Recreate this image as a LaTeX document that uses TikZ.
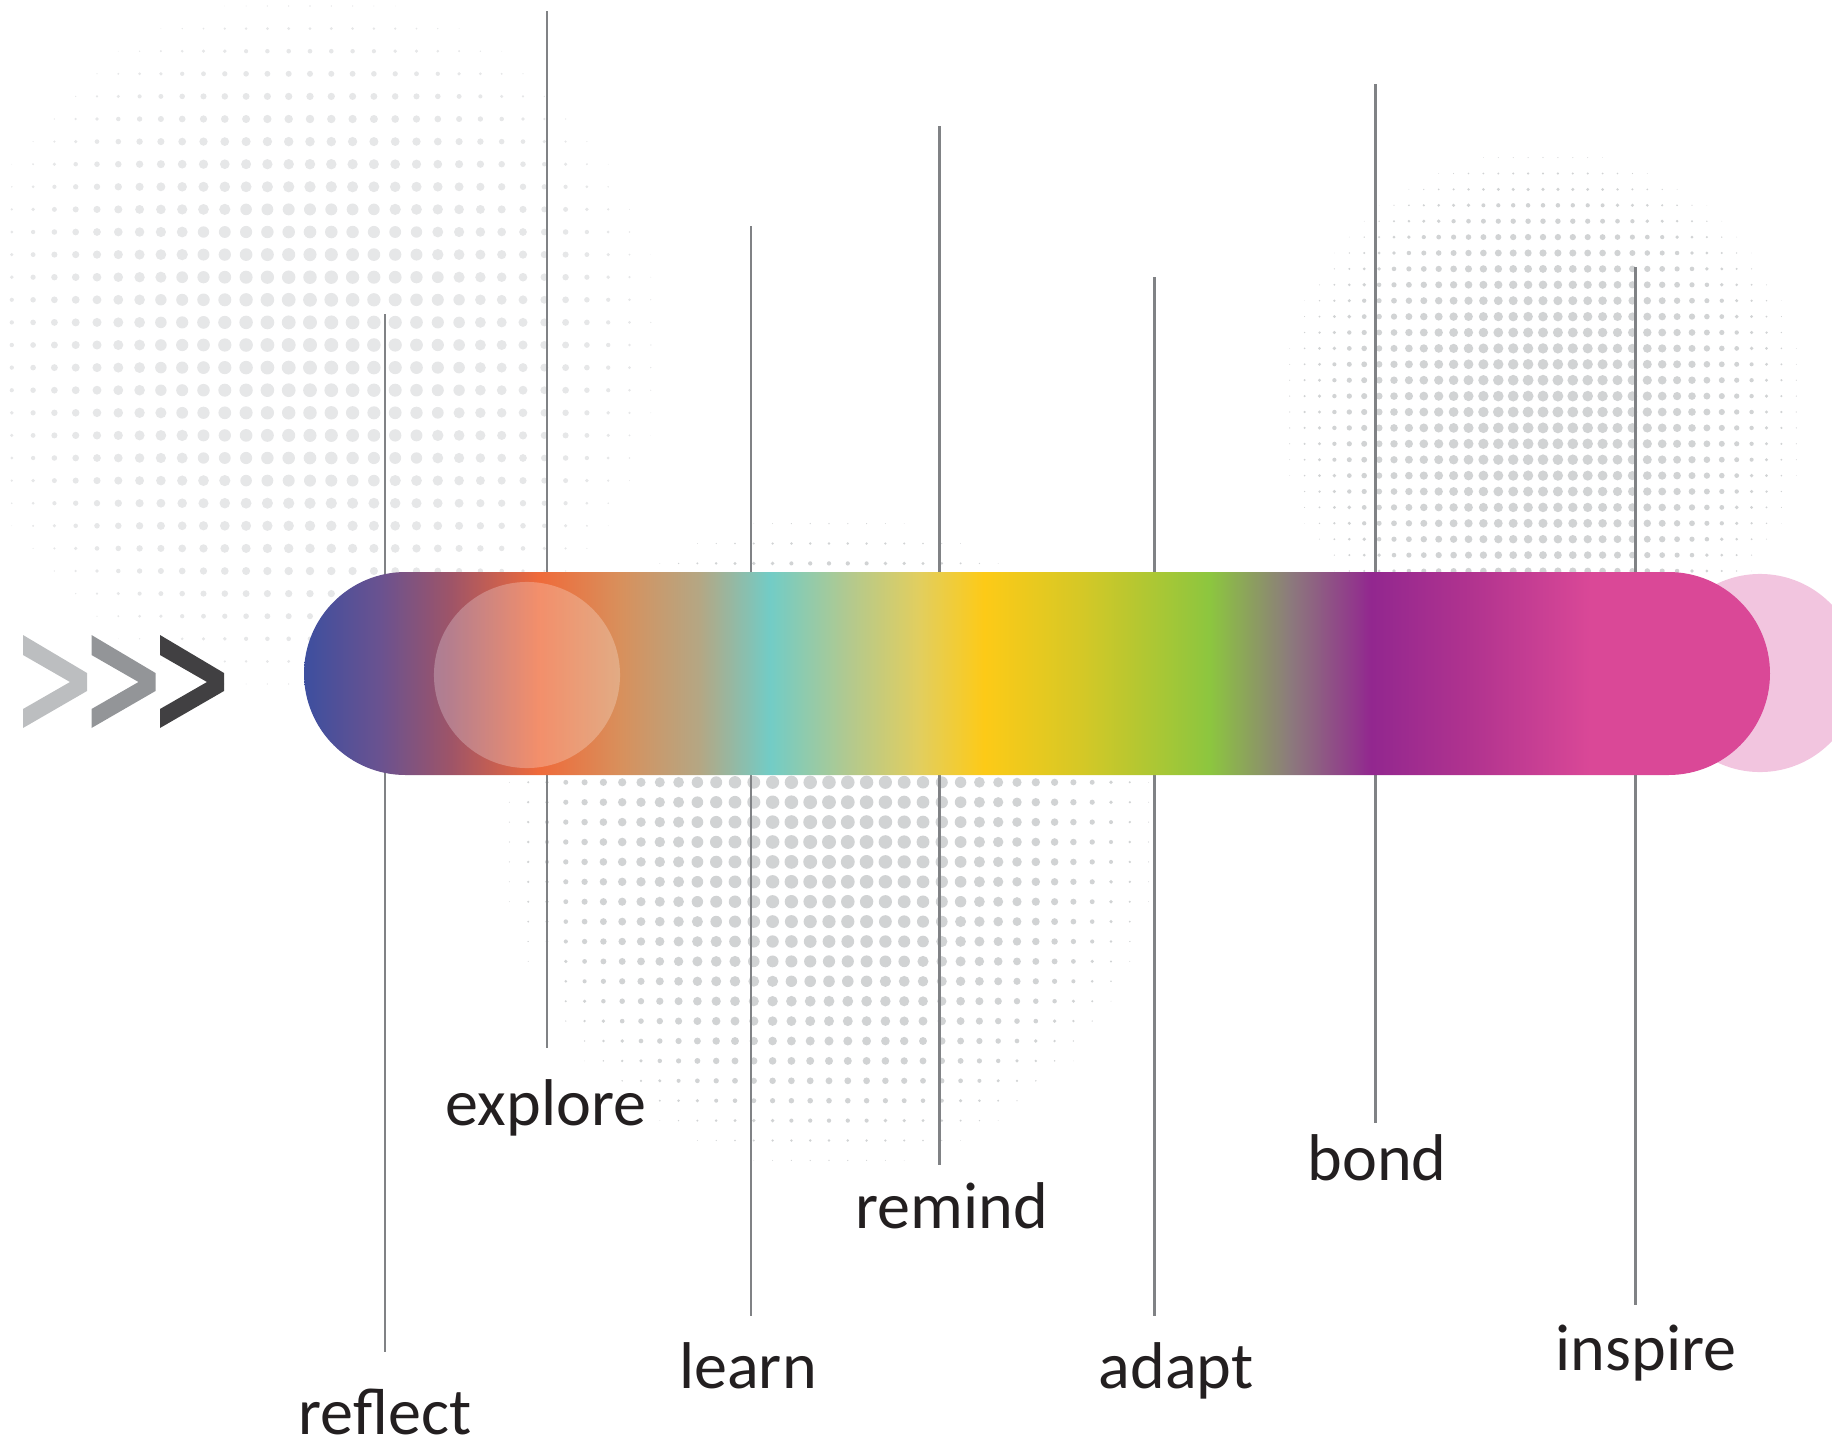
\documentclass[tikz,border=0pt]{standalone}
\usepackage{fontspec}
\setmainfont{Carlito}
\usetikzlibrary{positioning,calc}

\definecolor{stemgray}{HTML}{808285}
\definecolor{inkblack}{HTML}{231F20}
\definecolor{dotlight}{HTML}{E6E7E8}
\definecolor{dotmid}{HTML}{D1D3D4}
\definecolor{pinkcap}{HTML}{F2C5DF}
\definecolor{chevlight}{HTML}{BCBEC0}
\definecolor{chevmid}{HTML}{939598}
\definecolor{chevdark}{HTML}{414042}

\definecolor{rbblue}{HTML}{3D4F9F}
\definecolor{rbviolet}{HTML}{6A5290}
\definecolor{rbmauve}{HTML}{9E5468}
\definecolor{rbred}{HTML}{EF6A3A}
\definecolor{rbtan}{HTML}{D8905C}
\definecolor{rbsand}{HTML}{B4A784}
\definecolor{rbteal}{HTML}{72CCC6}
\definecolor{rbsage}{HTML}{B3C98E}
\definecolor{rbstraw}{HTML}{E2CE5E}
\definecolor{rbyellow}{HTML}{FDCA17}
\definecolor{rblime}{HTML}{D5C826}
\definecolor{rbgreen}{HTML}{8CC63F}
\definecolor{rbdusk}{HTML}{8C7B7C}
\definecolor{rbpurple}{HTML}{92278F}
\definecolor{rbplum}{HTML}{B1338F}
\definecolor{rbpink}{HTML}{DA4897}

\pgfdeclarehorizontalshading{rainbow}{100bp}{%
  color(0bp)=(rbblue); color(25bp)=(rbblue);
  color(27.6bp)=(rbviolet); color(30bp)=(rbmauve);
  color(33bp)=(rbred); color(35.8bp)=(rbtan);
  color(38.5bp)=(rbsand); color(40.9bp)=(rbteal);
  color(43.6bp)=(rbsage); color(46bp)=(rbstraw);
  color(48.2bp)=(rbyellow); color(51.5bp)=(rblime);
  color(55.9bp)=(rbgreen); color(58.6bp)=(rbdusk);
  color(61.4bp)=(rbpurple); color(64.8bp)=(rbplum);
  color(68.9bp)=(rbpink); color(75bp)=(rbpink);
  color(100bp)=(rbpink)}

% halftone: centre x, centre y, reach, biggest radius, step x, step y, colour
\newcommand{\dotfield}[7]{%
  \pgfmathtruncatemacro{\dotni}{#3/#5}%
  \pgfmathtruncatemacro{\dotnj}{#3/#6}%
  \foreach \i in {-\dotni,...,\dotni}{%
    \foreach \j in {-\dotnj,...,\dotnj}{%
      \pgfmathsetmacro{\dotf}{1-(\i*#5/#3)^2-(\j*#6/#3)^2}%
      \ifdim\dotf pt>0.04pt
        \pgfmathsetmacro{\dotr}{#4*\dotf*0.28453}%
        \fill[#7] ({#1+\i*#5},{#2+\j*#6}) circle[radius=\dotr pt];
      \fi
    }}}

\begin{document}
\begin{tikzpicture}[x=0.01cm, y=-0.01cm,
    stem/.style={stemgray, line width=0.85pt},
    word/.style={inkblack, anchor=base, inner sep=0pt,
      font=\fontsize{18.8pt}{20pt}\selectfont}]

    \useasboundingbox (0,0) rectangle (1832,1454);
    \clip (0,0) rectangle (1832,1454);

    \dotfield{310}{345}{360}{7}{21.3}{22.6}{dotlight}
    \dotfield{829}{842}{335}{7}{18.8}{19.9}{dotmid}
    \dotfield{1543}{412}{270}{5.5}{14.9}{15.9}{dotmid}

    \coordinate (t1) at (385,314);
    \coordinate (b1) at ($(t1)+(0,1038)$);
    \coordinate (t2) at (547,11);
    \coordinate (b2) at ($(t2)+(0,1037)$);
    \coordinate (t3) at (751,226);
    \coordinate (b3) at ($(t3)+(0,1090)$);
    \coordinate (t4) at (939,126);
    \coordinate (b4) at ($(t4)+(0,1039)$);
    \coordinate (t5) at (1154,277);
    \coordinate (b5) at ($(t5)+(0,1039)$);
    \coordinate (t6) at (1375,84);
    \coordinate (b6) at ($(t6)+(0,1039)$);
    \coordinate (t7) at (1635,267);
    \coordinate (b7) at ($(t7)+(0,1038)$);

    \foreach \k in {1,...,7}
      \draw[stem] (t\k) -- (b\k);

    \fill[pinkcap] (1760,673) circle[radius=0.99cm];
    \path[shading=rainbow, rounded corners=1.015cm] (304,572) rectangle (1770,775);
    \fill[white, fill opacity=0.25] (527,675) circle[radius=0.93cm];

    \foreach \dx/\col in {0/chevlight, 68.5/chevmid, 137/chevdark}
      \fill[\col, shift={(\dx,0)}] (23,635) -- (87,673) -- (87,691) -- (23,728)
        -- (23,709) -- (70,682) -- (23,655) -- cycle;

    \node[word, text depth=0pt] (reflect) at (385,1434) {reflect};
    \node[word] (explore) at (546,1125) {explore};
    \node[word] (learn) at (748,1388) {learn};
    \node[word] (remind) at (952,1228) {remind};
    \node[word] (adapt) at (1176,1388) {adapt};
    \node[word] (bond) at (1377,1180) {bond};
    \node[word] (inspire) at (1646,1370) {inspire};
  \end{tikzpicture}
\end{document}
